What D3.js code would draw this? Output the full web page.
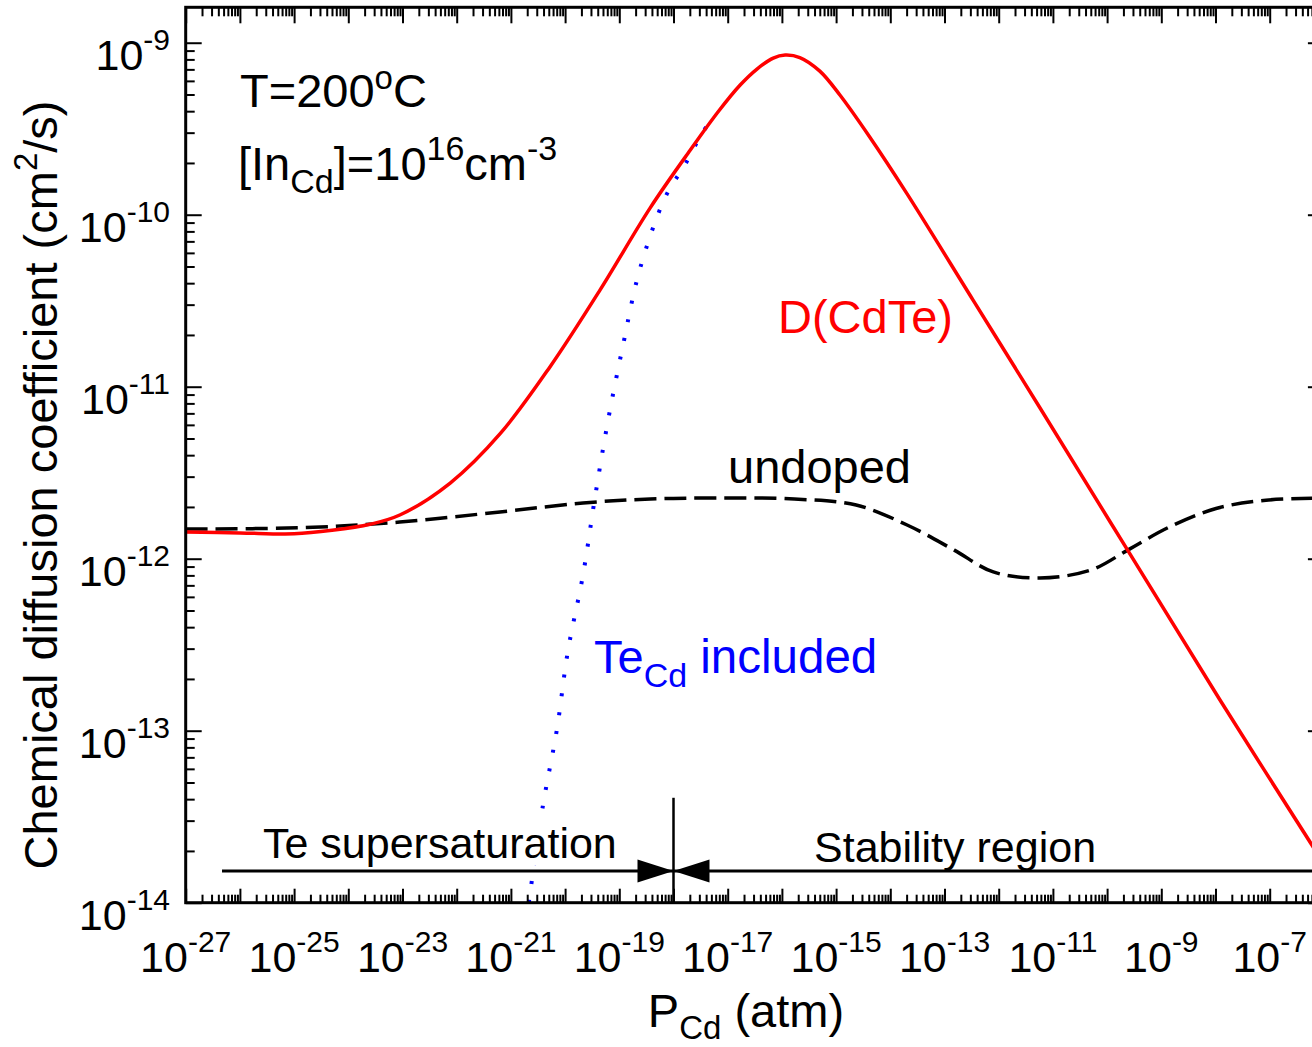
<!DOCTYPE html>
<html>
<head>
<meta charset="utf-8">
<script src="https://cdn.jsdelivr.net/npm/d3@7/dist/d3.min.js"></script>
<style>
  html, body { margin: 0; padding: 0; background: #fff; }
  svg { display: block; }
  text { font-family: "Liberation Sans", Arial, Helvetica, sans-serif; white-space: pre; }
</style>
</head>
<body>
<script>
// ---------------- data (log10 values) ----------------
// D(CdTe) with [In_Cd]=1e16 cm^-3 (red solid)
const dcdteLogP = [-27, -26, -25, -24.3, -23.6, -23.05, -22.12, -21.19, -20.28, -19.36, -18.43, -17.69, -17.18, -16.77, -16.46, -16.16, -15.94, -15.67, -15.30, -14.93, -14.38, -13.69, -12.47, -11.24, -9.65, -7.92, -6.0];
const dcdteLogD = [-11.845, -11.85, -11.855, -11.835, -11.80, -11.746, -11.56, -11.27, -10.885, -10.44, -9.96, -9.624, -9.403, -9.246, -9.153, -9.089, -9.072, -9.086, -9.165, -9.304, -9.548, -9.879, -10.498, -11.122, -11.936, -12.82, -13.774];

// undoped (black dashed)
const undopedLogP = [-27, -24.89, -23.05, -21.20, -19.67, -18.43, -17.20, -15.77, -14.63, -13.69, -12.82, -12.10, -11.24, -10.30, -9.62, -8.86, -7.99, -7.07, -6.0];
const undopedLogD = [-11.827, -11.82, -11.787, -11.728, -11.676, -11.653, -11.647, -11.653, -11.688, -11.804, -11.95, -12.077, -12.112, -12.066, -11.95, -11.817, -11.708, -11.66, -11.648];

// Te_Cd included (blue dotted)
const tecdLogP = [-20.67, -20.41, -20.15, -19.95, -19.67, -19.45, -19.21, -18.93, -18.62, -18.15, -17.79, -17.44, -17.23];
const tecdLogD = [-14.0, -13.437, -12.99, -12.54, -12.095, -11.647, -11.20, -10.757, -10.316, -9.897, -9.71, -9.51, -9.43];

// axis ticks / labels (exponents)
const xLabelExps = [-27, -25, -23, -21, -19, -17, -15, -13, -11, -9, -7];
const yLabelExps = [-9, -10, -11, -12, -13, -14];

// region annotation (log10 values)
const boundaryLogP = -18;      // Te supersaturation | Stability region
const regionLineLogD = -13.816;
const regionLineStartLogP = -26.33;
const boundaryTopLogD = -13.39;

// ---------------- chart ----------------
const W = 1312, H = 1047;
const svg = d3.select("body").append("svg").attr("width", W).attr("height", H);

const X0 = 185.7, X1 = 185.7 + 21 * 54.2, Y0 = 902.7, Y1 = 7.3;
const x = d3.scaleLog().domain([1e-27, 1e-6]).range([X0, X1]);
const y = d3.scaleLog().domain([1e-14, Math.pow(10, -8.794)]).range([Y0, Y1]);

svg.append("defs").append("clipPath").attr("id", "plotclip")
  .append("rect").attr("x", X0).attr("y", Y1).attr("width", X1 - X0).attr("height", Y0 - Y1);

const toPts = (lp, ld) => lp.map((v, i) => [Math.pow(10, v), Math.pow(10, ld[i])]);
const line = d3.line().x(d => x(d[0])).y(d => y(d[1])).curve(d3.curveCatmullRom.alpha(0.5));

const plot = svg.append("g").attr("clip-path", "url(#plotclip)");

plot.append("path").datum(toPts(undopedLogP, undopedLogD))
  .attr("d", line).attr("fill", "none").attr("stroke", "#000")
  .attr("stroke-width", 3.5).attr("stroke-dasharray", "22,8");

plot.append("path").datum(toPts(tecdLogP, tecdLogD))
  .attr("d", line).attr("fill", "none").attr("stroke", "#0000ff")
  .attr("stroke-width", 4).attr("stroke-dasharray", "3,16");

plot.append("path").datum(toPts(dcdteLogP, dcdteLogD))
  .attr("d", line).attr("fill", "none").attr("stroke", "#ff0000")
  .attr("stroke-width", 3.5);

// ---------------- labels inside plot ----------------
function addText(g, xp, yp, parts, opts = {}) {
  const t = g.append("text").attr("x", xp).attr("y", yp)
    .attr("fill", opts.fill || "#000")
    .attr("text-anchor", opts.anchor || "start");
  if (opts.transform) t.attr("transform", opts.transform);
  parts.forEach(p => {
    const ts = t.append("tspan").text(p.t).attr("font-size", p.s);
    if (p.dy) ts.attr("dy", p.dy);
  });
  return t;
}

addText(svg, 240, 107, [{t: "T=200", s: 47}, {t: "o", s: 33, dy: -18}, {t: "C", s: 47, dy: 18}]);
addText(svg, 238, 180, [{t: "[In", s: 47}, {t: "Cd", s: 34, dy: 13}, {t: "]=10", s: 47, dy: -13},
  {t: "16", s: 34, dy: -20}, {t: "cm", s: 47, dy: 20}, {t: "-3", s: 34, dy: -20}]);
addText(svg, 778, 333, [{t: "D(CdTe)", s: 47}], {fill: "#ff0000"});
addText(svg, 728, 483, [{t: "undoped", s: 47}]);
addText(svg, 594, 673, [{t: "Te", s: 47}, {t: "Cd", s: 34, dy: 14}, {t: " included", s: 47.5, dy: -14}], {fill: "#0000ff"});

// region labels with white background
[[263, 858, "Te supersaturation"], [814, 862, "Stability region"]].forEach(([xp, yp, s]) => {
  const g = svg.append("g");
  const t = addText(g, xp, yp, [{t: s, s: 43}]);
  const bb = t.node().getBBox();
  g.insert("rect", "text").attr("x", bb.x - 1).attr("y", bb.y + 2)
    .attr("width", bb.width + 2).attr("height", bb.height - 4).attr("fill", "#fff");
});

// region line & arrows
const bx = x(Math.pow(10, boundaryLogP));
const ry = y(Math.pow(10, regionLineLogD));
svg.append("line").attr("x1", x(Math.pow(10, regionLineStartLogP))).attr("x2", X1)
  .attr("y1", ry).attr("y2", ry).attr("stroke", "#000").attr("stroke-width", 3);
svg.append("line").attr("x1", bx).attr("x2", bx)
  .attr("y1", y(Math.pow(10, boundaryTopLogD))).attr("y2", Y0)
  .attr("stroke", "#000").attr("stroke-width", 2.5);
svg.append("path").attr("d", `M${bx - 36},${ry - 11.5}L${bx},${ry}L${bx - 36},${ry + 11.5}Z`).attr("fill", "#000");
svg.append("path").attr("d", `M${bx + 36},${ry - 11.5}L${bx},${ry}L${bx + 36},${ry + 11.5}Z`).attr("fill", "#000");

// ---------------- axes ----------------
const majorX = d3.range(-27, -5).map(e => Math.pow(10, e));
const minorX = [];
d3.range(-27, -6).forEach(e => { for (let m = 2; m <= 9; m++) minorX.push(m * Math.pow(10, e)); });
const majorY = d3.range(-14, -8).map(e => Math.pow(10, e));
const minorY = [];
d3.range(-14, -9).forEach(e => { for (let m = 2; m <= 9; m++) minorY.push(m * Math.pow(10, e)); });

function tickAxis(axisFn, scale, values, size, transform) {
  const g = svg.append("g").attr("transform", transform)
    .call(axisFn(scale).tickValues(values).tickSize(size).tickFormat(""));
  g.select(".domain").remove();
  g.selectAll(".tick line").attr("stroke", "#000").attr("stroke-width", 2);
  g.selectAll(".tick text").remove();
}
tickAxis(d3.axisBottom, x, majorX, -14, `translate(0,${Y0})`);
tickAxis(d3.axisBottom, x, minorX, -8, `translate(0,${Y0})`);
tickAxis(d3.axisTop, x, majorX, -16, `translate(0,${Y1})`);
tickAxis(d3.axisTop, x, minorX, -9, `translate(0,${Y1})`);
tickAxis(d3.axisLeft, y, majorY, -16, `translate(${X0},0)`);
tickAxis(d3.axisLeft, y, minorY, -9, `translate(${X0},0)`);
tickAxis(d3.axisRight, y, majorY, -16, `translate(${X1},0)`);
tickAxis(d3.axisRight, y, minorY, -9, `translate(${X1},0)`);

// frame
svg.append("rect").attr("x", X0).attr("y", Y1).attr("width", X1 - X0).attr("height", Y0 - Y1)
  .attr("fill", "none").attr("stroke", "#000").attr("stroke-width", 3);

// tick labels
xLabelExps.forEach(e => {
  addText(svg, x(Math.pow(10, e)), 972, [{t: "10", s: 43}, {t: String(e), s: 30, dy: -20}], {anchor: "middle"});
});
yLabelExps.forEach(e => {
  addText(svg, 170, y(Math.pow(10, e)) + 27, [{t: "10", s: 43}, {t: String(e), s: 30, dy: -20}], {anchor: "end"});
});

// axis titles
addText(svg, 746, 1027, [{t: "P", s: 47}, {t: "Cd", s: 33, dy: 12}, {t: " (atm)", s: 47, dy: -12}], {anchor: "middle"});
addText(svg, 0, 0, [{t: "Chemical diffusion coefficient (cm", s: 47}, {t: "2", s: 33, dy: -20}, {t: "/s)", s: 47, dy: 20}],
  {anchor: "middle", transform: "translate(57,485) rotate(-90)"});
</script>
</body>
</html>
